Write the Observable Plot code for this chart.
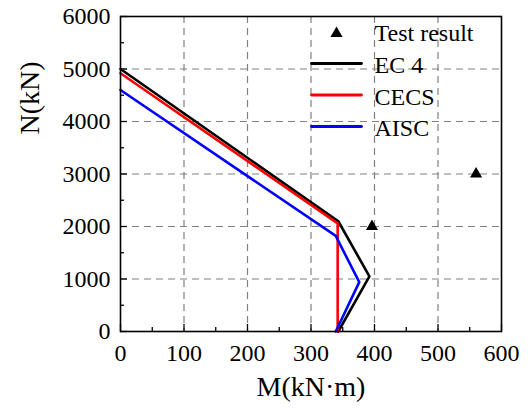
<!DOCTYPE html>
<html><head><meta charset="utf-8">
<script src="https://cdn.jsdelivr.net/npm/d3@7"></script>
<script src="https://cdn.jsdelivr.net/npm/@observablehq/plot@0.6"></script>
<style>body{margin:0;background:#fff} svg, svg text{font-family:"Liberation Serif","Times New Roman",serif !important}</style>
</head><body><div id="chart"></div>
<script>
// ---- data ----
const ec4M = [0, 343, 392, 343];
const ec4N = [5000, 2100, 1050, 0];
const cecsM = [0, 342, 342];
const cecsN = [4920, 2060, 0];
const aiscM = [0, 339, 376, 339];
const aiscN = [4600, 1820, 940, 0];
const testM = [396, 560];
const testN = [2000, 3000];
const xTicks = [0, 100, 200, 300, 400, 500, 600];
const yTicks = [0, 1000, 2000, 3000, 4000, 5000, 6000];
const xMinor = [50, 150, 250, 350, 450, 550];
const yMinor = [500, 1500, 2500, 3500, 4500, 5500];
const seriesNames = ["EC 4", "CECS", "AISC"];
const seriesColors = ["#000000", "#ff0000", "#0000ff"];
const testLabel = "Test result";
const xTitle = "M(kN·m)";
const yTitle = "N(kN)";

const toRows = (M, N, s) => M.map((m, i) => ({M: m, N: N[i], s}));
const lines = [
  toRows(ec4M, ec4N, seriesNames[0]),
  toRows(cecsM, cecsN, seriesNames[1]),
  toRows(aiscM, aiscN, seriesNames[2])
];
const tests = testM.map((m, i) => ({M: m, N: testN[i]}));

const W = 532, H = 410, mL = 120, mR = 31, mT = 16, mB = 79;
const pw = W - mL - mR, ph = H - mT - mB;
const font = "'Liberation Serif', 'Times New Roman', serif";
const lineShape = {draw(ctx, l) { ctx.moveTo(0, 0); ctx.lineTo(0, -l); }};

const marks = [
  Plot.gridX(xTicks.slice(1, -1), {stroke: "#808080", strokeOpacity: 1, strokeWidth: 1.2, strokeDasharray: "7,5"}),
  Plot.gridY(yTicks.slice(1, -1), {stroke: "#808080", strokeOpacity: 1, strokeWidth: 1.2, strokeDasharray: "7,5"}),
  Plot.axisX(xTicks, {tickSize: 0, tickPadding: 12, fontSize: 24, fontFamily: font, fill: "#000", label: null, tickFormat: d => String(d)}),
  Plot.axisY(yTicks, {tickSize: 0, tickPadding: 10, fontSize: 24, fontFamily: font, fill: "#000", label: null, tickFormat: d => String(d)}),
  Plot.tickX(xTicks, {x: d => d, insetTop: ph - 7, stroke: "#000", strokeWidth: 1.3}),
  Plot.tickX(xMinor, {x: d => d, insetTop: ph - 4, stroke: "#000", strokeWidth: 1.3}),
  Plot.tickY(yTicks, {y: d => d, insetRight: pw - 7, stroke: "#000", strokeWidth: 1.3}),
  Plot.tickY(yMinor, {y: d => d, insetRight: pw - 4, stroke: "#000", strokeWidth: 1.3}),
  ...lines.map((rows, i) => Plot.line(rows, {x: "M", y: "N", stroke: seriesColors[i], strokeWidth: 2.6})),
  Plot.dot(tests, {x: "M", y: "N", symbol: "triangle", r: 4.5, fill: "#000", stroke: null}),
  Plot.frame({stroke: "#000", strokeWidth: 1.6}),
  // legend
  Plot.dot([testLabel], {frameAnchor: "top-left", dx: 216, dy: 17, symbol: "triangle", r: 4.5, fill: "#000", stroke: null}),
  Plot.text([testLabel], {frameAnchor: "top-left", dx: 254, dy: 17, text: d => d, textAnchor: "start", lineAnchor: "middle", fontSize: 24, fontFamily: font, fill: "#000"}),
  ...seriesNames.map((name, i) => Plot.vector([name], {frameAnchor: "top-left", dx: 191, dy: 47 + i * 31.5, rotate: 90, length: 50, anchor: "start", shape: lineShape, stroke: seriesColors[i], strokeWidth: 2.8})),
  ...seriesNames.map((name, i) => Plot.text([name], {frameAnchor: "top-left", dx: 254, dy: 49 + i * 31.5, text: d => d, textAnchor: "start", lineAnchor: "middle", fontSize: 24, fontFamily: font, fill: "#000"})),
  // axis titles
  Plot.text([yTitle], {frameAnchor: "top-left", dx: -90, dy: 118, rotate: -90, text: d => d, lineAnchor: "middle", fontSize: 28, fontFamily: font, fill: "#000"}),
  Plot.text([xTitle], {frameAnchor: "bottom", dy: 56, text: d => d, lineAnchor: "middle", fontSize: 28, fontFamily: font, fill: "#000"})
];

const chart = Plot.plot({
  width: W, height: H,
  marginLeft: mL, marginRight: mR, marginTop: mT, marginBottom: mB,
  style: {fontFamily: font, background: "#fff", color: "#000"},
  x: {domain: [0, 600]},
  y: {domain: [0, 6000]},
  marks
});
document.getElementById("chart").appendChild(chart);
</script>
</body></html>
